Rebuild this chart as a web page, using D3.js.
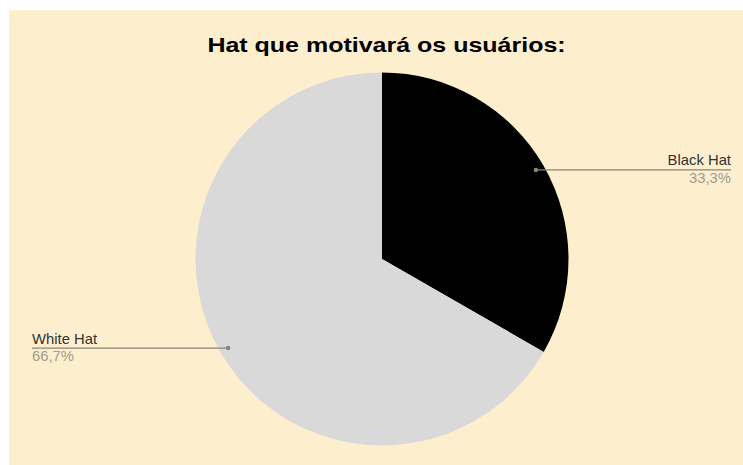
<!DOCTYPE html>
<html>
<head>
<meta charset="utf-8">
<script src="https://cdn.jsdelivr.net/npm/d3@7"></script>
<style>
  html, body { margin: 0; padding: 0; background: #ffffff; }
  svg { display: block; }
</style>
</head>
<body>
<svg id="chart" width="743" height="465"></svg>
<script>
// Chart data
const title = "Hat que motivará os usuários:";
const categories = ["Black Hat", "White Hat"];
const values = [33.3, 66.7];
const colors = ["#000000", "#d9d9d9"];

const W = 743, H = 465;
const svg = d3.select("#chart");
const FONT = "Liberation Sans, Arial, sans-serif";

// Cream panel
svg.append("rect")
  .attr("x", 9).attr("y", 10)
  .attr("width", W - 9).attr("height", H - 10)
  .attr("fill", "#fdefce");

// Text helper: places text at (x, y) with a slight horizontal stretch
function addText(x, y, str, opts) {
  return svg.append("text")
    .attr("transform", `translate(${x},${y}) scale(${opts.sx || 1},1)`)
    .attr("text-anchor", opts.anchor || "start")
    .attr("font-family", FONT)
    .attr("font-weight", opts.weight || "normal")
    .attr("font-size", opts.size)
    .attr("fill", opts.fill)
    .text(str);
}

// Title
addText(386.5, 52, title, { anchor: "middle", weight: "bold", size: 21, sx: 1.19, fill: "#000" });

const cx = 382, cy = 259, r = 186.5;
const data = categories.map((c, i) => ({ name: c, value: values[i], color: colors[i] }));

const pie = d3.pie().sort(null).value(d => d.value);
const arcs = pie(data);
const arc = d3.arc().innerRadius(0).outerRadius(r);

const g = svg.append("g").attr("transform", `translate(${cx},${cy})`);
g.selectAll("path.slice")
  .data(arcs)
  .enter().append("path")
  .attr("class", "slice")
  .attr("d", arc)
  .attr("fill", d => d.data.color);

// Leader lines and labels
const fmt = v => d3.format(".1f")(v).replace(".", ",") + "%";
const dotArc = d3.arc().innerRadius(r * 0.953).outerRadius(r * 0.953);

arcs.forEach(a => {
  const [px, py] = dotArc.centroid(a);
  const ax = cx + px, ay = cy + py;
  const right = (a.startAngle + a.endAngle) / 2 < Math.PI;
  const endX = right ? 731 : 32;

  svg.append("line")
    .attr("x1", ax).attr("y1", ay)
    .attr("x2", endX).attr("y2", ay)
    .attr("stroke", "#8a8577")
    .attr("stroke-width", 1.2);
  svg.append("circle")
    .attr("cx", ax).attr("cy", ay).attr("r", 2.2)
    .attr("fill", "#8a8577");

  const anchor = right ? "end" : "start";
  addText(endX, ay - 4.5, a.data.name, { anchor, size: 14, sx: 1.06, fill: "#333333" });
  addText(endX, ay + 13, fmt(a.data.value), { anchor, size: 14, sx: 1.06, fill: "#9e9b90" });
});
</script>
</body>
</html>
